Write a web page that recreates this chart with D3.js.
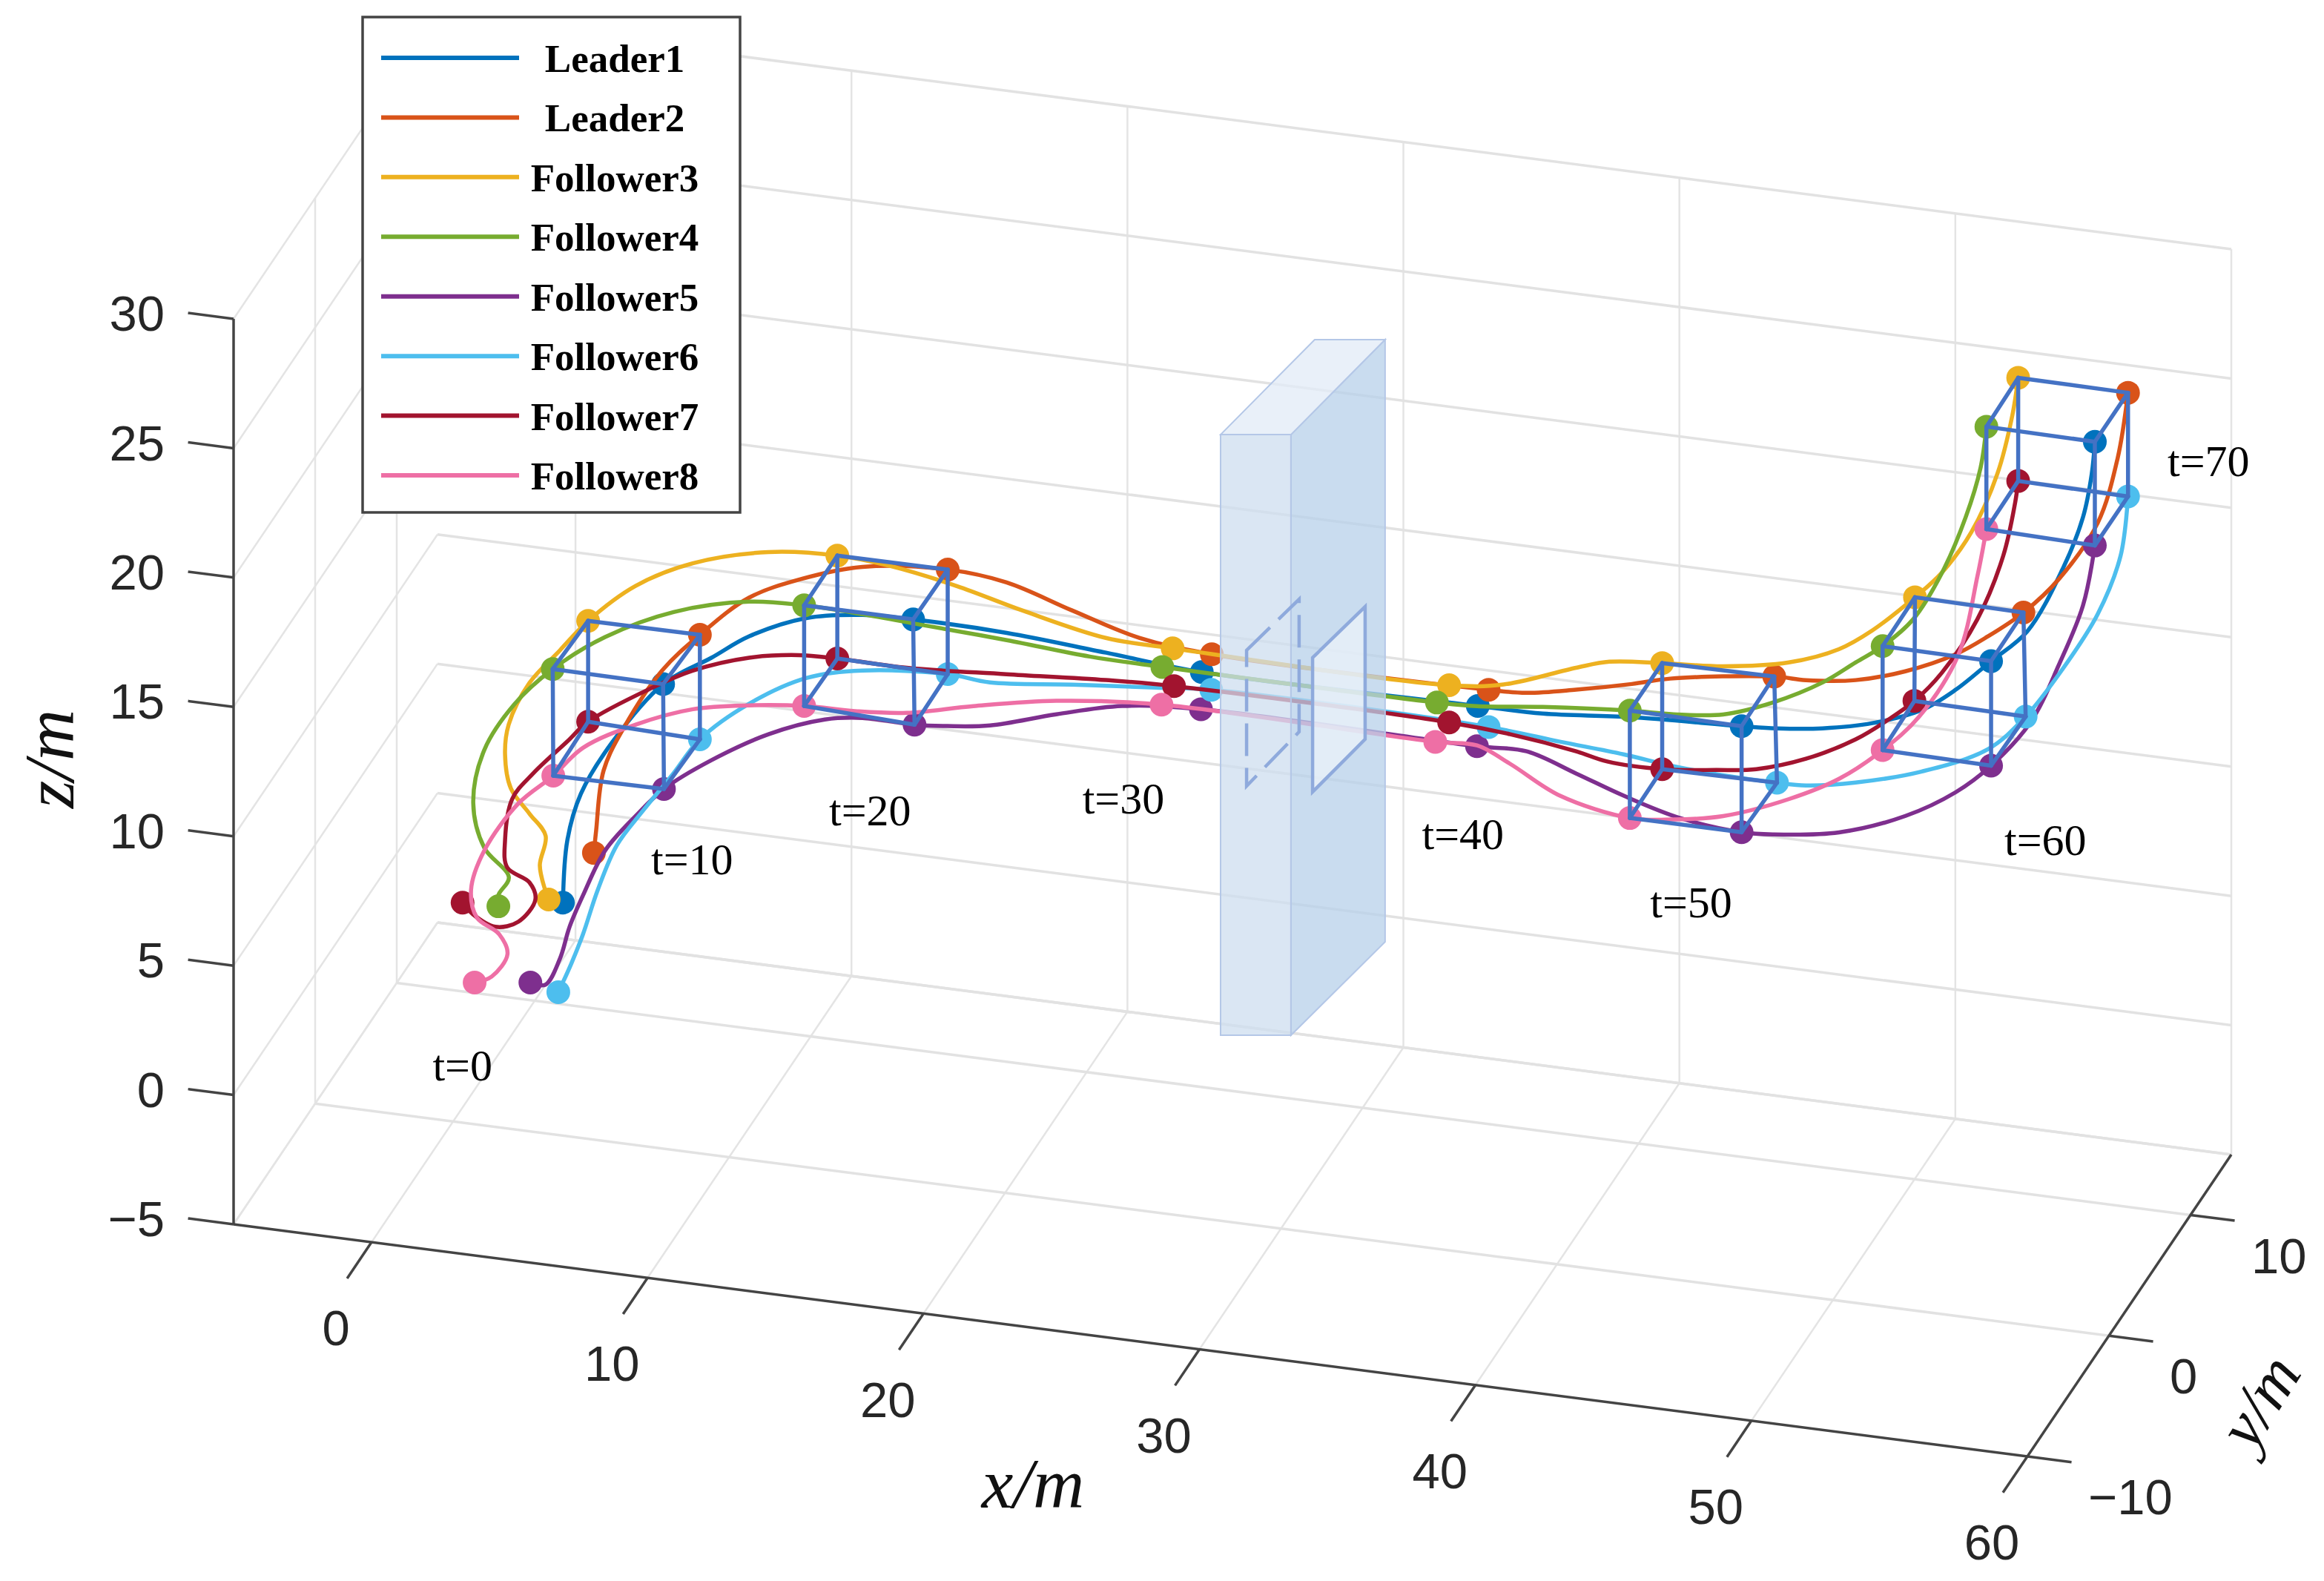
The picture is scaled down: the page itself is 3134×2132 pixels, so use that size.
<!DOCTYPE html>
<html><head><meta charset="utf-8">
<script src="https://cdn.jsdelivr.net/npm/d3@7"></script>
<style>html,body{margin:0;padding:0;background:#fff}svg{display:block}</style>
</head><body><div id="chart"></div>
<script>
// ---- values: [x, z, t] with t only at formation instants; y is the agent's depth in the formation
const leader1=[[4.57,5.02,0],[4.73,7.46],[5.22,9.32],[6.37,11.49],[8.20,13.97,10],[9.95,15.23],[11.32,16.25],[13.39,17.24],[15.43,17.64],[17.26,17.72,20],[20.65,17.67],[24.25,17.40],[27.72,17.13,30],[37.72,17.20,40],[40.08,17.23],[43.23,17.53],[47.28,17.74,50],[48.55,17.83],[50.21,18.06],[52.02,18.51],[53.82,19.27],[55.03,20.21],[56.32,21.50,60],[57.63,22.83],[58.90,25.39],[59.65,27.52],[59.97,29.26],[60.08,30.50,70]];
const leader2=[[4.51,5.07,0],[4.59,5.94],[4.86,8.30],[5.61,10.09],[6.98,12.46],[8.35,14.03,10],[10.13,15.71],[12.06,16.71],[14.24,17.47],[17.33,17.79,20],[19.46,17.59],[21.85,16.83],[24.27,16.11],[26.90,15.84,30],[36.93,15.85,40],[38.30,15.92],[40.10,16.29],[42.12,16.79],[43.51,17.19],[47.28,17.79,50],[48.43,17.81],[50.23,18.06],[52.03,18.65],[53.84,19.55],[55.02,20.41],[56.31,21.51,60],[57.60,22.99],[59.00,25.34],[59.72,27.93],[60.10,30.53,70]];
const follower3=[[2.87,3.04,0],[2.74,3.40],[2.55,4.32],[2.76,5.49],[2.17,6.27],[1.50,7.15],[1.29,8.44],[1.42,9.60],[2.17,11.31],[3.27,12.72],[4.30,14.01,10],[6.02,15.60],[8.09,16.76],[10.83,17.57],[13.33,17.78,20],[15.26,17.64],[17.66,17.20],[20.05,16.58],[23.06,15.94],[25.48,15.87,30],[35.50,15.83,40],[37.47,16.13],[40.10,17.14],[41.31,17.54],[43.22,17.75,50],[45.42,17.93],[47.81,18.41],[49.62,19.17],[50.83,20.06],[52.38,21.56,60],[53.35,22.64],[54.43,24.37],[55.37,26.76],[55.91,29.09],[56.12,30.56,70]];
const follower4=[[2.23,4.56,0],[2.23,4.99],[2.61,5.73],[1.72,6.75],[1.32,8.42],[1.72,10.53],[2.82,12.46],[4.20,14.00,10],[6.10,15.50],[8.58,16.81],[11.32,17.59],[13.31,17.72,20],[15.43,17.67],[17.64,17.55],[20.65,17.39],[23.66,17.17],[26.29,17.13,30],[36.24,17.13,40],[37.69,17.19],[40.08,17.49],[43.23,17.78,50],[44.81,17.86],[46.61,18.10],[48.41,18.81],[50.21,19.83],[51.42,20.78],[52.39,21.54,60],[53.49,22.72],[54.54,24.67],[55.40,26.94],[55.94,28.93],[56.15,30.54,70]];
const follower5=[[3.39,1.77,0],[3.93,1.76],[4.46,2.84],[4.81,4.12],[5.30,5.41],[6.10,7.25],[7.21,8.74],[8.23,9.92,10],[9.95,11.27],[12.02,12.56],[14.06,13.41],[15.43,13.66],[17.31,13.66,20],[18.50,13.77],[20.05,14.01],[22.45,14.77],[24.84,15.42],[27.69,15.69,30],[37.69,15.64,40],[39.49,15.69],[41.29,15.08],[43.01,14.46],[45.05,13.88],[47.28,13.64,50],[48.41,13.71],[50.81,14.12],[53.22,15.09],[55.03,16.25],[56.32,17.46,60],[57.74,19.32],[58.79,21.73],[59.65,24.11],[60.08,26.49,70]];
const follower6=[[3.22,-0.49,0],[3.68,0.65],[4.11,1.86],[4.65,3.66],[5.34,5.48],[6.29,6.95],[7.39,8.54],[8.35,9.99,10],[10.13,11.61],[12.20,12.89],[14.24,13.46],[17.33,13.75,20],[18.86,13.64],[21.85,13.97],[24.86,14.27],[26.88,14.46,30],[36.93,14.41,40],[39.51,14.20],[41.82,14.03],[43.62,13.82],[45.42,13.72],[47.38,13.70,50],[48.43,13.74],[50.23,14.10],[52.63,14.86],[55.02,16.05],[56.39,17.50,60],[57.71,19.49],[59.00,21.82],[59.83,24.19],[60.10,26.52,70]];
const follower7=[[-0.25,2.49,0],[0.13,2.09],[0.94,1.72],[1.77,2.03],[2.39,2.98],[2.17,3.61],[1.37,4.07],[1.29,5.12],[1.55,6.75],[2.31,7.84],[3.54,9.24],[4.30,10.11,10],[6.58,11.72],[8.09,12.61],[10.13,13.39],[11.93,13.74],[13.33,13.80,20],[15.85,13.79],[19.46,14.04],[23.06,14.31],[25.53,14.42,30],[35.50,14.39,40],[37.71,14.24],[40.10,13.91],[41.23,13.67],[43.22,13.65,50],[45.18,13.89],[46.63,14.12],[48.43,14.77],[50.23,15.77],[51.42,16.70],[52.36,17.55,60],[53.35,18.77],[54.64,21.02],[55.58,23.61],[56.01,25.72],[56.12,26.57,70]];
const follower8=[[1.37,1.49,0],[1.99,1.81],[2.56,2.75],[2.26,3.48],[1.45,4.02],[1.24,5.05],[1.72,6.64],[2.96,8.64],[4.22,9.88,10],[5.30,11.11],[7.21,12.27],[9.28,13.15],[11.32,13.58],[13.31,13.83,20],[15.24,13.89],[17.04,14.08],[19.44,14.67],[22.45,15.29],[26.26,15.67,30],[36.18,15.60,40],[37.69,15.67],[38.90,15.12],[40.70,14.14],[43.23,13.63,50],[44.81,13.79],[46.61,14.17],[49.00,15.16],[50.81,16.19],[52.39,17.52,60],[53.71,18.99],[55.13,21.57],[55.83,24.74],[56.15,26.58,70]];

const seriesNames=["Leader1","Leader2","Follower3","Follower4","Follower5","Follower6","Follower7","Follower8"];
const seriesColors=["#0072BD","#D95319","#EDB120","#77AC30","#7E2F8E","#4DBEEE","#A2142F","#EE6FA5"];
const seriesValues=[leader1,leader2,follower3,follower4,follower5,follower6,follower7,follower8];
const agentDepth=[-2,2,2,-2,-2,2,2,-2];
const cubeTimes=[10,20,50,60,70];
const cubeEdges=[[3,0],[0,1],[1,2],[2,3],[7,4],[4,5],[5,6],[6,7],[0,4],[1,5],[2,6],[3,7]];

const xTicks=[0,10,20,30,40,50,60];
const yTicks=[-10,0,10];
const zTicks=[-5,0,5,10,15,20,25,30];
const xDomain=[-5,60], yDomain=[-10,15], zDomain=[-5,30];

// annotations placed as percentages of the figure
const timeLabels=[["t=0",19.90,67.39],["t=10",29.78,54.36],["t=20",37.44,51.27],["t=30",48.34,50.52],["t=40",62.95,52.77],["t=50",72.77,57.08],["t=60",88.01,53.14],["t=70",95.03,29.15]];
const wallFront=[[52.52,27.49],[55.55,27.49],[55.55,65.48],[52.52,65.48]];
const wallSide=[[55.55,27.49],[59.60,21.48],[59.60,59.57],[55.55,65.48]];
const wallTop=[[52.52,27.49],[56.57,21.48],[59.60,21.48],[55.55,27.49]];
const gateNear=[[56.48,41.60],[58.74,38.37],[58.74,46.76],[56.48,50.09]];
const gateFar=[[53.64,41.13],[55.90,37.90],[55.90,46.29],[53.64,49.72]];

const W=3134,H=2132;
const svg=d3.select("#chart").append("svg").attr("width",W).attr("height",H).attr("viewBox",[0,0,W,H]);
svg.append("rect").attr("width",W).attr("height",H).attr("fill","#fff");

// ---- oblique 3-D projection assembled from one pair of linear scales per data axis
const origin=[315,1651];
const xToPx=d3.scaleLinear().domain(xDomain).range([0,2419]);
const xToPy=d3.scaleLinear().domain(xDomain).range([0,313]);
const yToPx=d3.scaleLinear().domain(yDomain).range([0,275]);
const yToPy=d3.scaleLinear().domain(yDomain).range([0,-407]);
const zToPy=d3.scaleLinear().domain(zDomain).range([0,-1221]);
const project=(x,y,z)=>[origin[0]+xToPx(x)+yToPx(y), origin[1]+xToPy(x)+yToPy(y)+zToPy(z)];
const seg=d3.line();
const figX=d3.scaleLinear().domain([0,100]).range([0,W]);
const figY=d3.scaleLinear().domain([0,100]).range([0,H]);
const figPts=a=>a.map(p=>[figX(p[0]),figY(p[1])]);

const [x0,x1]=xDomain,[y0,y1]=yDomain,[z0,z1]=zDomain;
const grid=svg.append("g").attr("fill","none").attr("stroke","#e4e4e4").attr("stroke-width",2.5);
const gridH=svg.append("g").attr("fill","none").attr("stroke","#e2e2e2").attr("stroke-width",3.5);
const line3=(g,a,b)=>g.append("path").attr("d",seg([project(...a),project(...b)]));
// floor
xTicks.forEach(x=>line3(grid,[x,y0,z0],[x,y1,z0]));
yTicks.filter(y=>y>y0).concat([y1]).forEach(y=>line3(gridH,[x0,y,z0],[x1,y,z0]));
line3(grid,[x0,y0,z0],[x0,y1,z0]);
// back wall
xTicks.forEach(x=>line3(grid,[x,y1,z0],[x,y1,z1]));
zTicks.forEach(z=>line3(gridH,[x0,y1,z],[x1,y1,z]));
// left wall
yTicks.filter(y=>y>y0).forEach(y=>line3(grid,[x0,y,z0],[x0,y,z1]));
zTicks.forEach(z=>line3(grid,[x0,y0,z],[x0,y1,z]));

// axes and ticks
const axes=svg.append("g").attr("fill","none").attr("stroke","#444").attr("stroke-width",3.5);
line3(axes,[x0,y0,z0],[x0,y0,z1]);
line3(axes,[x0,y0,z0],[x1,y0,z0]);
line3(axes,[x1,y0,z0],[x1,y1,z0]);
zTicks.forEach(z=>line3(axes,[x0,y0,z],[x0-1.65,y0,z]));
xTicks.forEach(x=>line3(axes,[x,y0,z0],[x,y0-3,z0]));
yTicks.forEach(y=>line3(axes,[x1,y,z0],[x1+1.6,y,z0]));

const fmt=v=>String(v).replace("-","\u2212");
const tickFont='"Liberation Sans",Arial,sans-serif';
const labels=svg.append("g").attr("font-family",tickFont).attr("font-size",67).attr("fill","#262626");
zTicks.forEach(z=>{const p=project(x0,y0,z);labels.append("text").attr("x",p[0]-93).attr("y",p[1]-8).attr("dy","0.36em").attr("text-anchor","end").text(fmt(z));});
xTicks.forEach(x=>{const p=project(x,y0,z0);labels.append("text").attr("x",p[0]-48).attr("y",p[1]+115).attr("dy","0.36em").attr("text-anchor","middle").text(fmt(x));});
yTicks.forEach(y=>{const p=project(x1,y,z0);labels.append("text").attr("x",p[0]+82).attr("y",p[1]+54).attr("dy","0.36em").attr("text-anchor","start").text(fmt(y));});

// axis titles
const serif='"Liberation Serif","Times New Roman",serif';
const title=(s,x,y,r,fs)=>svg.append("text").attr("transform",`translate(${x},${y}) rotate(${r})`).attr("text-anchor","middle").attr("dy","0.3em").attr("font-family",serif).attr("font-style","italic").attr("font-size",fs).attr("fill","#111").text(s);
title("x/m",figX(44.45),figY(94.0),0,96);
title("z/m",figX(2.25),figY(48.0),-90,96);
title("y/m",figX(97.3),figY(88.7),-58,88);

// trajectories
const traj=d3.line().curve(d3.curveCatmullRom.alpha(0.5));
const pointOf=(s,p)=>project(p[0],agentDepth[s],p[1]);
seriesValues.forEach((vals,s)=>{
  const g=svg.append("g").attr("class","agent");
  g.append("path").attr("d",traj(vals.map(p=>pointOf(s,p)))).attr("fill","none").attr("stroke",seriesColors[s]).attr("stroke-width",5.5).attr("stroke-linecap","round");
  g.selectAll("circle").data(vals.filter(p=>p.length===3)).join("circle")
    .attr("cx",p=>pointOf(s,p)[0]).attr("cy",p=>pointOf(s,p)[1]).attr("r",16).attr("fill",seriesColors[s]);
});

// formation cubes
const cubes=svg.append("g").attr("fill","none").attr("stroke","#4472C4").attr("stroke-width",5.5).attr("stroke-linecap","round");
cubeTimes.forEach(t=>{
  const at=s=>pointOf(s,seriesValues[s].find(p=>p[2]===t));
  cubeEdges.forEach(([a,b])=>cubes.append("path").attr("d",seg([at(a),at(b)])));
});

// obstacle
const poly=d3.line().curve(d3.curveLinearClosed);
const wall=svg.append("g").attr("stroke","#B4C7E7").attr("stroke-width",2);
wall.append("path").attr("d",poly(figPts(wallFront))).attr("fill","#CEDEEF").attr("fill-opacity",0.75);
wall.append("path").attr("d",poly(figPts(wallSide))).attr("fill","#B7D0EA").attr("fill-opacity",0.75);
wall.append("path").attr("d",poly(figPts(wallTop))).attr("fill","#E2EBF7").attr("fill-opacity",0.75);
svg.append("path").attr("d",poly(figPts(gateFar))).attr("fill","none").attr("stroke","#8FAADC").attr("stroke-width",4.5).attr("stroke-dasharray","44 16");
svg.append("path").attr("d",poly(figPts(gateNear))).attr("fill","#EEF3FB").attr("fill-opacity",0.7).attr("stroke","#8FAADC").attr("stroke-width",4.5);

// time labels
svg.append("g").selectAll("text").data(timeLabels).join("text")
  .attr("x",d=>figX(d[1])).attr("y",d=>figY(d[2])).attr("dy","0.34em").attr("text-anchor","middle")
  .attr("font-family",serif).attr("font-size",60).attr("fill","#000").text(d=>d[0]);

// legend
const legendScale=d3.scalePoint().domain(seriesNames).range([78,641]);
const legend=svg.append("g");
legend.append("rect").attr("x",489).attr("y",23).attr("width",509).attr("height",668).attr("fill","#fff").attr("stroke","#444").attr("stroke-width",3.5);
seriesNames.forEach((n,i)=>{
  const y=legendScale(n);
  legend.append("line").attr("x1",514).attr("x2",700).attr("y1",y).attr("y2",y).attr("stroke",seriesColors[i]).attr("stroke-width",6);
  legend.append("text").attr("x",829).attr("y",y+1).attr("dy","0.34em").attr("text-anchor","middle")
    .attr("font-family",serif).attr("font-weight","bold").attr("font-size",53).attr("fill","#000").text(n);
});
</script></body></html>
